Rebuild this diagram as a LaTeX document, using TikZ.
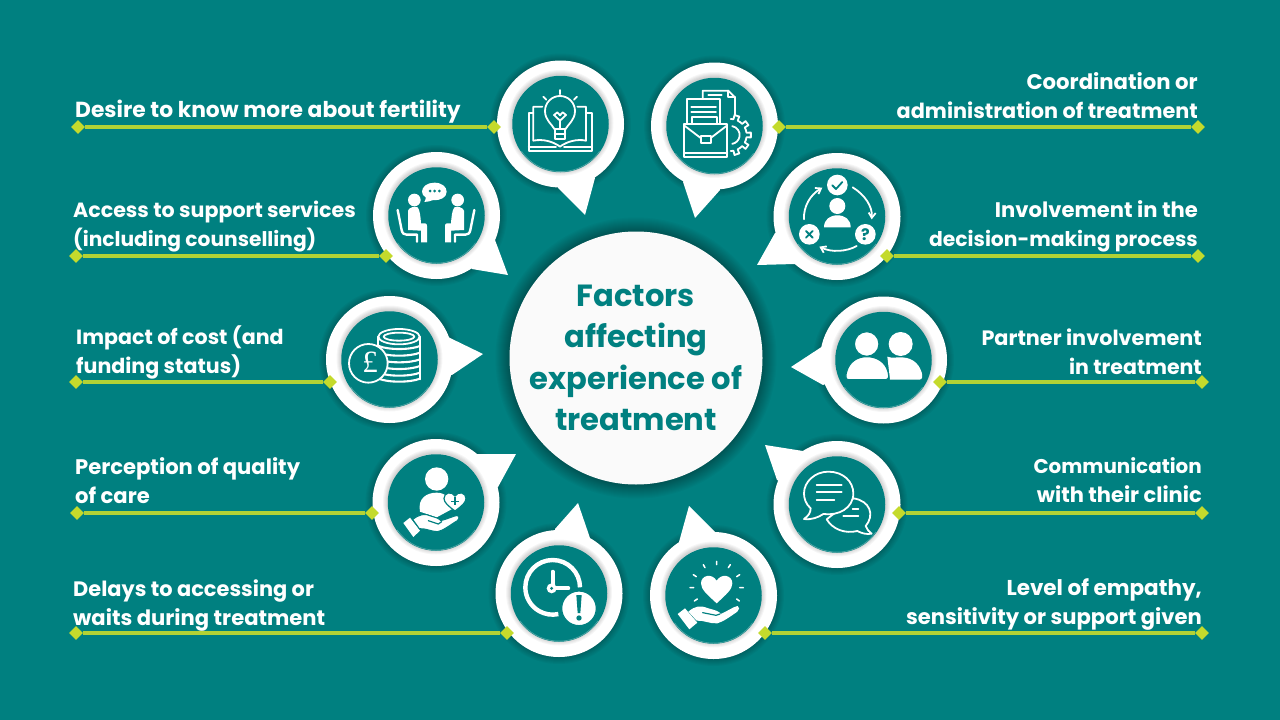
\documentclass[tikz,border=0pt]{standalone}
\usepackage{fontspec}
\setmainfont{Poppins}
\newfontfamily\seriffont{Liberation Serif}
\usetikzlibrary{shapes.geometric,arrows.meta}
\definecolor{teal1}{HTML}{008080}
\definecolor{lime1}{HTML}{B2D235}
\definecolor{lime2}{HTML}{C4DA2C}
\definecolor{rim1}{HTML}{4FA5A5}
\newcommand\fs[1]{\fontsize{#1}{29}\selectfont}
\tikzset{
  bubble/.style={circle,fill=white,minimum size=127pt,inner sep=0pt},
  face/.style={circle,fill=teal1,minimum size=96.5pt,inner sep=0pt},
  hub/.style={circle,fill=white!98!black,minimum size=253pt,inner sep=0pt},
  hubtext/.style={text=teal1,align=center,font=\fontsize{30.6}{41.5}\selectfont\bfseries,inner sep=0pt},
  gem/.style={diamond,fill=lime2,minimum size=14pt,inner sep=0pt},
  link/.style={draw=lime1,line width=3.6pt},
  lab/.style={text=white,font=\fontsize{21}{29}\selectfont\bfseries,inner sep=0pt},
  labl/.style={lab,align=left,anchor=base west},
  labr/.style={lab,align=right,anchor=base east},
  wl/.style={draw=white,line width=1.8pt,line cap=round,line join=round},
  tl/.style={draw=teal1,line width=1.2pt,line cap=round,line join=round},
}
\newcommand\softshade[5]{\foreach \k in {1,...,#4}{\fill[black,opacity=#5] (#1,#2) circle ({#3+\k});}}
% id, cx, cy, tipx, tipy, ax, ay, bx, by
\newcommand\callout[9]{
  \softshade{#2}{#3}{63.5}{7}{.03}
  \fill[white] (#2,#3) -- (#6,#7) -- (#4,#5) -- (#8,#9) -- cycle;
  \node[bubble] (b#1) at (#2,#3) {};
  \softshade{#2}{#3-1}{48}{5}{.035}
  \node[face] (f#1) at (#2,#3) {};
  \draw[rim1,line width=.7pt] (#2,#3) ++(35:47.6) arc (35:145:47.6);
}
\begin{document}
\begin{tikzpicture}[x=1pt,y=1pt,yscale=-1]
\useasboundingbox (0,0) rectangle (1280,720);
\fill[teal1] (0,0) rectangle (1280,720);

% hub
\softshade{636}{358}{126.5}{14}{.022}
\node[hub] (hub) at (636,358) {};
\node[hubtext] (hubt) at (hub.center) {Factors\\affecting\\experience of\\treatment};

% callouts
\callout{1}{560.5}{124}{585}{215}{558}{188}{595}{178}
\callout{2}{714.5}{126}{695}{218}{683}{182}{720}{190}
\callout{3}{837}{216.5}{757}{265}{775}{233}{795}{264}
\callout{4}{883.5}{360}{791}{367}{823}{346}{823}{385}
\callout{5}{837}{504.5}{765}{445}{803}{451}{777}{480}
\callout{6}{713.5}{595.5}{689}{506}{679}{542}{715}{532}
\callout{7}{559}{593.5}{578}{503}{555}{529}{590}{538}
\callout{8}{436}{502.5}{516}{454}{477}{454}{498}{487}
\callout{9}{389.5}{359.5}{483}{354}{448}{337}{452}{375}
\callout{10}{436.5}{215.5}{508}{275}{472}{269}{495}{240}

% icon 1: bulb and book
\begin{scope}[shift={(480,50)},scale=1/3]
  \draw[wl] (187,170)--(160,170)--(160,272) .. controls (190,266) and (220,275) .. (240,290) .. controls (260,275) and (290,266) .. (318,272) -- (318,170)--(292,170);
  \draw[wl] (160,190)--(146,190)--(146,304)--(335,304)--(335,190)--(318,190);
  \draw[wl] (146,292)--(228,292) (252,292)--(335,292);
  \draw[wl,fill=teal1] (224,238) .. controls (215,222) and (195,210) .. (195,183) arc (180:360:45) .. controls (285,210) and (265,222) .. (256,238) -- cycle;
  \draw[wl,fill=teal1] (224,238) rectangle (256,268);
  \draw[wl] (224,253)--(256,253);
  \draw[wl] (240,238)--(240,212)--(222,195)--(232,187)--(240,196)--(248,187)--(258,195)--(240,212);
  \draw[wl] (240,120)--(240,133) (190,140)--(199,149) (291,140)--(282,149);
\end{scope}

% icon 2: briefcase, papers and gear
\begin{scope}[shift={(480,50)},scale=1/3]
  \draw[wl] (668,148)--(668,122)--(745,122)--(765,142)--(765,195);
  \draw[wl] (745,122)--(745,142)--(765,142);
  \draw[wl] (685,134)--(725,134);
  \draw[wl,fill=teal1] (620,222)--(620,148)--(720,148)--(720,222);
  \draw[wl] (634,172)--(708,172) (634,186)--(708,186);
  \draw[wl] (636,222)--(636,202)--(712,202)--(712,222);
  \begin{scope}[shift={(752,255)}]
    \foreach \a in {-72,-36,0,36,72}{
      \draw[wl] (\a-18:48)--(\a-8:48)--(\a-7:61)--(\a+7:61)--(\a+8:48)--(\a+18:48);
    }
    \draw[wl] (-80:27) arc (-80:80:27);
  \end{scope}
  \draw[wl,fill=teal1] (612,222) rectangle (742,322);
  \draw[wl] (612,310)--(742,310);
  \draw[wl] (612,226)--(662,264) (692,264)--(742,226);
  \draw[wl,fill=teal1] (662,258) rectangle (692,280);
\end{scope}

% icon 3: decision cycle
\begin{scope}[shift={(760,140)},scale=1/3]
  \fill[white] (232,198) circle (24);
  \fill[white] (192,262) .. controls (192,238) and (210,226) .. (232,226) .. controls (255,226) and (272,238) .. (272,262) -- cycle;
  \fill[white] (232,135) circle (31) (148,283) circle (31) (316,283) circle (31);
  \draw[tl,line width=1.8pt] (217,136)--(228,147)--(247,126);
  \draw[tl,line width=1.8pt] (138,273)--(158,293) (158,273)--(138,293);
  \node[text=teal1,font=\fontsize{16}{16}\selectfont\bfseries,inner sep=0pt] (qm) at (316,283) {?};
  \draw[wl,-{Straight Barb[length=5pt,width=7pt]}] (132,238) .. controls (130,200) and (150,165) .. (187,143);
  \draw[wl,-{Straight Barb[length=5pt,width=7pt]}] (278,142) .. controls (315,165) and (338,200) .. (335,238);
  \draw[wl,-{Straight Barb[length=5pt,width=7pt]}] (290,318) .. controls (260,335) and (215,338) .. (178,320);
\end{scope}

% icon 4: two people
\begin{scope}[shift={(760,140)},scale=1/3]
  \fill[white] (390,719) -- (478,719) .. controls (488,719) and (488,708) .. (485,697) .. controls (475,665) and (450,652) .. (422,652) .. controls (405,652) and (395,655) .. (382,650) -- cycle;
  \fill[white] (422,612) circle (36);
  \draw[teal1,line width=1.2pt,fill=white] (265,719) .. controls (255,719) and (257,705) .. (260,695) .. controls (268,665) and (292,650) .. (320,650) .. controls (350,650) and (376,665) .. (384,695) .. controls (387,705) and (388,719) .. (378,719) -- cycle;
  \draw[teal1,line width=1.2pt,fill=white] (320,612) circle (37);
\end{scope}

% icon 5: speech bubbles
\begin{scope}[shift={(640,430)},scale=1/3]
  \draw[wl,fill=teal1] (640,205) .. controls (690,212) and (705,255) .. (677,288) .. controls (680,298) and (688,306) .. (695,311) .. controls (680,314) and (665,310) .. (652,303) .. controls (615,312) and (578,298) .. (560,268) -- cycle;
  \draw[wl,fill=teal1] (565,125) .. controls (610,125) and (640,155) .. (640,190) .. controls (640,235) and (595,258) .. (550,252) .. controls (535,262) and (515,270) .. (492,267) .. controls (505,258) and (512,248) .. (512,235) .. controls (497,222) and (492,205) .. (492,190) .. controls (492,155) and (525,125) .. (565,125) -- cycle;
  \draw[wl] (530,165)--(605,165) (530,187)--(605,187) (530,210)--(583,210);
  \draw[wl] (638,237)--(655,237) (610,258)--(655,258);
\end{scope}

% icon 6: heart in hand
\begin{scope}[shift={(640,430)},scale=1/3]
  \fill[white] (230,520) .. controls (200,492) and (183,478) .. (183,460) .. controls (183,436) and (215,428) .. (230,452) .. controls (245,428) and (277,436) .. (277,460) .. controls (277,478) and (260,492) .. (230,520) -- cycle;
  \draw[wl,line width=1.5pt] (230,394)--(230,404) (190,404)--(195,413) (271,404)--(265,413) (160,434)--(169,440) (299,434)--(290,440) (150,473)--(161,473) (299,473)--(310,473) (163,513)--(172,507) (298,513)--(290,507);
  \fill[white] (113,552)--(135,535)--(172,578)--(148,598)--cycle;
  \fill[white] (145,545) .. controls (165,528) and (180,525) .. (205,535) .. controls (225,540) and (240,545) .. (242,552) .. controls (260,545) and (280,530) .. (293,528) .. controls (300,530) and (298,540) .. (292,545) .. controls (270,560) and (250,575) .. (232,580) .. controls (210,582) and (190,570) .. (170,572) -- cycle;
  \draw[tl] (188,548)--(228,556)--(240,552);
\end{scope}

% icon 7: clock with warning
\begin{scope}[shift={(360,430)},scale=1/3]
  \draw[white,line width=4.4pt] (660,472) arc (0:-282:82);
  \draw[white,line width=3.8pt,line cap=round] (578,425)--(578,475)--(625,475);
  \fill[white] (575,475) circle (15);
  \fill[teal1] (575,475) circle (5);
  \draw[teal1,line width=1.2pt,fill=white] (657,535) circle (52);
  \fill[teal1] (649,495)--(665,495)--(661,549)--(653,549)--cycle;
  \fill[teal1] (657,564) circle (8);
\end{scope}

% icon 8: person, heart and hand
\begin{scope}[shift={(360,430)},scale=1/3]
  \fill[white] (230,147) circle (35);
  \fill[white] (180,245) .. controls (172,205) and (200,188) .. (230,188) .. controls (255,188) and (275,205) .. (280,235) -- (230,262) -- cycle;
  \draw[teal1,line width=1.2pt,fill=white] (285,243) .. controls (265,228) and (252,218) .. (252,205) .. controls (252,188) and (275,182) .. (285,198) .. controls (295,182) and (318,188) .. (318,205) .. controls (318,218) and (305,228) .. (285,243) -- cycle;
  \draw[teal1,line width=1.6pt] (285,202)--(285,226) (273,214)--(297,214);
  \fill[white] (130,279)--(150,263)--(180,302)--(160,321)--cycle;
  \draw[teal1,line width=1pt,fill=white] (158,268) .. controls (175,255) and (195,248) .. (212,258) .. controls (225,262) and (238,265) .. (242,272) .. controls (260,268) and (280,258) .. (293,256) .. controls (300,260) and (298,268) .. (292,272) .. controls (270,285) and (250,302) .. (232,305) .. controls (215,305) and (195,294) .. (178,296) -- cycle;
  \draw[tl] (205,272)--(235,282)--(245,275);
\end{scope}

% icon 9: coins
\begin{scope}[shift={(320,140)},scale=1/3]
  \draw[wl] (237,590) ellipse (62 and 23);
  \draw[wl] (237,590) ellipse (46 and 12);
  \draw[wl] (175,590)--(175,620) (300,590)--(300,718);
  \foreach \y in {618,638,658,678,698,716}{
    \draw[white,line width=2.1pt] (176,\y) .. controls (205,\y+12) and (270,\y+12) .. (300,\y);
  }
  \draw[white,line width=1.8pt,fill=teal1] (145,670) circle (58);
  \node[text=white,font=\seriffont\fontsize{31}{31}\selectfont,inner sep=0pt] (pound) at (150,668) {£};
\end{scope}

% icon 10: two seated people talking
\begin{scope}[shift={(320,140)},scale=1/3]
  \fill[white] (343,128) .. controls (365,128) and (380,140) .. (380,155) .. controls (380,172) and (362,182) .. (340,180) .. controls (332,183) and (322,186) .. (313,186) .. controls (316,180) and (318,176) .. (317,172) .. controls (310,168) and (306,162) .. (306,155) .. controls (306,140) and (322,128) .. (343,128) -- cycle;
  \fill[teal1] (330,153) circle (4.5) (344,153) circle (4.5) (358,153) circle (4.5);
  \foreach \m/\o in {1/0,-1/696}{
    \begin{scope}[shift={(\o,0)},xscale=\m]
      \fill[white] (283,180) circle (19);
      \fill[white] (264,212) .. controls (266,202) and (285,198) .. (293,202) .. controls (300,210) and (302,235) .. (303,250) -- (315,250) .. controls (320,250) and (321,254) .. (321,258) -- (321,307) -- (303,307) -- (303,272) -- (264,270) -- cycle;
      \draw[white,line width=2.4pt,line cap=round,line join=round] (233,210) -- (245,270) .. controls (247,280) and (252,284) .. (260,284) -- (291,284) -- (291,305);
    \end{scope}
  }
\end{scope}

% connectors
\node[gem] (l1a) at (78,127) {}; \node[gem] (l1b) at (494,127) {};
\node[gem] (l2a) at (76,256) {}; \node[gem] (l2b) at (386,256) {};
\node[gem] (l3a) at (76,382) {}; \node[gem] (l3b) at (330,382) {};
\node[gem] (l4a) at (77,513) {}; \node[gem] (l4b) at (372,513) {};
\node[gem] (l5a) at (76,633) {}; \node[gem] (l5b) at (507,633) {};
\node[gem] (r1a) at (779,127) {}; \node[gem] (r1b) at (1198,127) {};
\node[gem] (r2a) at (887,256) {}; \node[gem] (r2b) at (1198,256) {};
\node[gem] (r3a) at (940,382) {}; \node[gem] (r3b) at (1202,382) {};
\node[gem] (r4a) at (899,513) {}; \node[gem] (r4b) at (1202,513) {};
\node[gem] (r5a) at (765,633) {}; \node[gem] (r5b) at (1202,633) {};
\foreach \p in {l1,l2,l3,l4,l5,r1,r2,r3,r4,r5}{
  \draw[link] (\p a) -- (\p b);
}

% labels
\node[labl] (t1) at (75,117) {\fs{21.8}Desire to know more about fertility};
\node[labl] (t2) at (73,246) {\fs{20.6}Access to support services\\\fs{20.2}(including counselling)};
\node[labl] (t3) at (76,373) {\fs{20.6}Impact of cost (and\\\fs{20.6}funding status)};
\node[labl] (t4) at (75,503) {\fs{21.1}Perception of quality\\\fs{21.1}of care};
\node[labl] (t5) at (73,625) {\fs{20.9}Delays to accessing or\\\fs{21.1}waits during treatment};
\node[labr] (t6) at (1198,118) {\fs{21.2}Coordination or\\\fs{20.8}administration of treatment};
\node[labr] (t7) at (1198,246) {\fs{21.1}Involvement in the\\\fs{20.3}decision-making process};
\node[labr] (t8) at (1202,374) {\fs{20.8}Partner involvement\\\fs{20.5}in treatment};
\node[labr] (t9) at (1202,502) {\fs{19.9}Communication\\\fs{21}with their clinic};
\node[labr] (t10) at (1202,624) {\fs{21.5}Level of empathy,\\\fs{21.1}sensitivity or support given};
\end{tikzpicture}
\end{document}
